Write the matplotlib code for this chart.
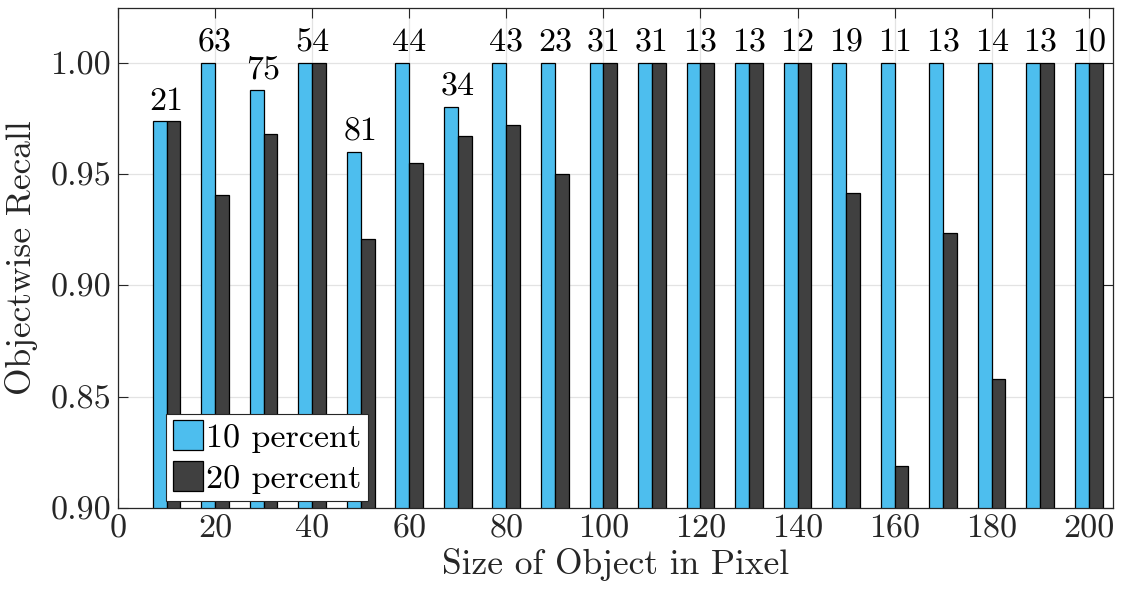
import matplotlib
matplotlib.use("Agg")
import matplotlib.pyplot as plt
import numpy as np

sizes = [10, 20, 30, 40, 50, 60, 70, 80, 90, 100, 110, 120, 130, 140, 150, 160, 170, 180, 190, 200]
recall_10 = [0.9737, 1.0, 0.9879, 1.0, 0.960, 1.0, 0.980, 1.0, 1.0, 1.0,
             1.0, 1.0, 1.0, 1.0, 1.0, 1.0, 1.0, 1.0, 1.0, 1.0]
recall_20 = [0.9737, 0.9406, 0.968, 1.0, 0.9207, 0.9548, 0.967, 0.972, 0.950, 1.0,
             1.0, 1.0, 1.0, 1.0, 0.9415, 0.819, 0.9235, 0.858, 1.0, 1.0]
counts = [21, 63, 75, 54, 81, 44, 34, 43, 23, 31, 31, 13, 13, 12, 19, 11, 13, 14, 13, 10]
series_names = ["10 percent", "20 percent"]
y_ticks = [0.80, 0.85, 0.90, 0.95, 1.00]
y_ticklabels = ["0.90", "0.85", "0.90", "0.95", "1.00"]
x_ticks = [0, 20, 40, 60, 80, 100, 120, 140, 160, 180, 200]

plt.rcParams['font.family'] = 'serif'
plt.rcParams['font.serif'] = ['cmr10', 'DejaVu Serif']
plt.rcParams['mathtext.fontset'] = 'cm'
plt.rcParams['axes.formatter.use_mathtext'] = True

axc = '#262626'
fs = 24.5
fig = plt.figure(figsize=(11.23, 5.99), dpi=100)
ax = fig.add_axes([118/1123, 1-508/599, 995/1123, 500/599])

w = 2.85
x = np.array(sizes, dtype=float)
ax.bar(x - w/2, recall_10, width=w, color='#4DBEEE', edgecolor='black', linewidth=0.9,
       label=series_names[0], zorder=3)
ax.bar(x + w/2, recall_20, width=w, color='#404040', edgecolor='black', linewidth=0.9,
       label=series_names[1], zorder=3)

for xi, a, b, c in zip(sizes, recall_10, recall_20, counts):
    top = max(a, b)
    ax.text(xi, top + 0.0024, str(c), ha='center', va='bottom', fontsize=fs, color='black', zorder=4)

ax.set_xlim(0, 205)
ax.set_ylim(0.80, 1.0245)
ax.set_xticks(x_ticks)
ax.set_xticklabels([str(t) for t in x_ticks])
ax.set_yticks(y_ticks)
ax.set_yticklabels(y_ticklabels)
ax.grid(True, color='#e3e3e3', linewidth=0.9, zorder=0)
ax.set_axisbelow(True)
ax.tick_params(direction='in', top=True, right=True, length=7, width=0.8,
               labelsize=fs, colors=axc, pad=5)
for s in ax.spines.values():
    s.set_color(axc)
    s.set_linewidth(0.9)
    s.set_zorder(5)

ax.set_xlabel("Size of Object in Pixel", fontsize=25.5, color=axc, labelpad=3)
ax.set_ylabel("Objectwise Recall", fontsize=25.5, color=axc, labelpad=9)

leg = ax.legend(loc='lower left', bbox_to_anchor=(0.048, 0.015), fontsize=fs,
                frameon=True, fancybox=False, edgecolor=axc, framealpha=1,
                handlelength=0.88, handleheight=0.95, handletextpad=0.1,
                borderpad=0.2, labelspacing=0.25, borderaxespad=0)
leg.get_frame().set_linewidth(0.8)
leg.set_zorder(6)

fig.savefig("out.png", dpi=100)
